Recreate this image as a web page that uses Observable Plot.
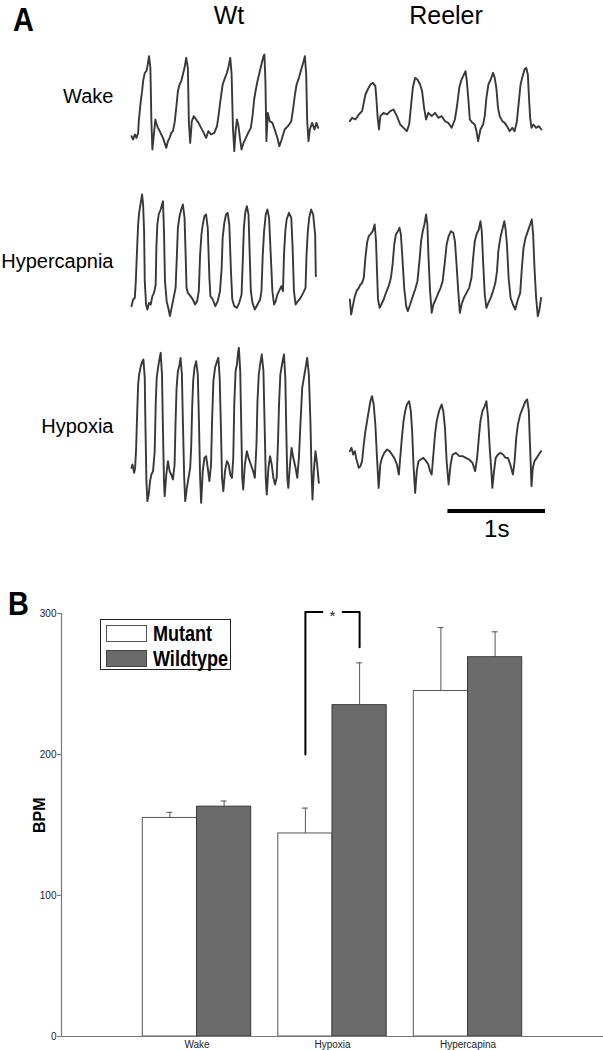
<!DOCTYPE html>
<html>
<head>
<meta charset="utf-8">
<script src="https://cdn.jsdelivr.net/npm/d3@7"></script>
<script src="https://cdn.jsdelivr.net/npm/@observablehq/plot@0.6"></script>
<style>
  html, body { margin: 0; padding: 0; background: #fff; }
  #page { position: relative; width: 603px; height: 1050px; overflow: hidden;
          font-family: "Liberation Sans", Arial, sans-serif; color: #000; }
  .abs { position: absolute; }
  .plabel { font-weight: bold; line-height: 1; transform: scaleX(0.85); transform-origin: left top; }
  #legend { position: absolute; left: 100px; top: 619px; width: 129px; height: 49px;
            border: 1.5px solid #222; background: #fff; }
  #legend .sw { position: absolute; left: 5px; width: 39px; height: 15px; border: 1px solid #555; }
  #legend .lt { position: absolute; left: 52px; font-weight: bold; font-size: 22px; line-height: 1;
                transform: scaleX(0.82); transform-origin: left top; white-space: nowrap; }
</style>
</head>
<body>
<div id="page">
  <div id="panelA" class="abs" style="left:0;top:0;"></div>
  <div id="panelB" class="abs" style="left:0;top:548px;"></div>
  <div class="abs plabel" style="left:13px;top:2px;font-size:34px;">A</div>
  <div class="abs plabel" style="left:8px;top:586px;font-size:34px;">B</div>
  <div id="legend"></div>
</div>
<script>
// ---------- Panel A: breathing traces (time in samples, amplitude in a.u.) ----------
const SAMPLE_MS = 3.4;
const genotypes = ["Wt", "Reeler"];
const conditions = ["Wake", "Hypercapnia", "Hypoxia"];

const wtWake = [[0,130],[5,120],[10,135],[15,125],[20,140],[22,175],[28,235],[32,265],[35,295],[40,320],[45,325],[48,340],[53,370],[57,335],[60,175],[63,90],[67,130],[72,180],[76,165],[80,155],[85,145],[90,135],[95,125],[100,110],[105,95],[110,115],[115,125],[120,140],[125,145],[130,170],[135,215],[140,265],[145,285],[150,295],[155,315],[160,335],[165,365],[170,335],[173,175],[177,110],[182,175],[188,190],[195,180],[202,170],[210,155],[218,140],[225,125],[232,145],[240,135],[250,140],[258,160],[263,195],[268,235],[275,285],[282,305],[288,320],[293,340],[298,365],[302,315],[306,155],[310,85],[314,145],[318,180],[322,165],[327,125],[332,90],[338,110],[345,125],[352,140],[360,155],[365,190],[370,240],[375,270],[380,295],[386,320],[392,345],[398,370],[401,375],[404,295],[407,115],[411,200],[417,175],[425,170],[432,150],[440,125],[446,100],[453,120],[462,150],[472,160],[482,175],[488,215],[493,255],[498,285],[505,305],[512,330],[518,350],[523,370],[527,315],[530,175],[534,115],[538,150],[545,170],[552,150],[558,170],[563,155]];

const reelerWake = [[4,175],[11,185],[21,180],[31,195],[41,205],[46,230],[51,255],[58,270],[66,285],[74,290],[81,280],[84,245],[88,185],[92,150],[96,190],[106,200],[116,195],[126,205],[136,210],[146,190],[156,165],[166,155],[176,145],[183,165],[188,215],[194,275],[201,305],[208,300],[216,285],[222,265],[228,215],[234,180],[241,200],[251,190],[261,200],[271,185],[281,190],[291,175],[301,170],[311,155],[321,180],[328,225],[334,275],[341,300],[346,310],[353,325],[357,295],[362,235],[366,180],[374,170],[381,165],[386,145],[391,115],[398,150],[406,165],[411,190],[416,245],[422,285],[429,300],[436,320],[441,305],[446,275],[451,215],[456,190],[464,175],[471,170],[478,160],[486,145],[494,155],[501,145],[508,175],[514,235],[519,285],[524,305],[531,330],[536,335],[541,315],[544,255],[548,185],[552,155],[558,165],[566,155],[574,160],[582,150]];

const wtHypercapnia = [[0,115],[5,135],[10,140],[13,190],[17,290],[20,360],[23,395],[27,420],[32,450],[35,420],[38,340],[40,190],[44,120],[48,105],[53,125],[58,120],[63,145],[68,155],[73,180],[75,290],[78,360],[82,390],[88,405],[95,430],[98,340],[101,190],[106,130],[112,105],[116,85],[122,115],[128,145],[133,170],[137,270],[140,350],[145,385],[150,405],[155,420],[160,380],[163,280],[166,170],[170,155],[178,145],[185,135],[192,120],[198,130],[203,160],[207,270],[211,330],[215,360],[220,385],[225,390],[230,350],[235,200],[238,145],[245,135],[253,115],[260,130],[267,160],[272,230],[275,320],[280,365],[285,390],[290,395],[295,360],[300,220],[304,135],[310,115],[318,110],[325,125],[332,150],[336,260],[339,350],[343,395],[348,415],[353,390],[356,290],[360,160],[365,125],[372,105],[380,120],[388,135],[392,160],[396,270],[400,340],[405,390],[410,405],[415,380],[420,270],[425,160],[430,120],[435,130],[440,150],[445,160],[452,175],[457,160],[460,270],[464,340],[468,375],[475,395],[482,380],[486,290],[490,160],[495,120],[502,130],[510,140],[518,155],[525,170],[528,270],[532,340],[536,380],[542,405],[548,390],[552,350],[554,330],[556,205]];

const reelerHypercapnia = [[4,135],[8,90],[13,115],[18,140],[24,160],[31,170],[36,180],[41,185],[46,200],[51,260],[56,305],[61,325],[66,330],[73,340],[79,360],[83,310],[86,220],[89,135],[94,110],[99,120],[106,135],[113,155],[121,175],[128,200],[133,240],[138,300],[143,330],[149,340],[154,350],[158,330],[162,270],[168,170],[174,115],[179,100],[186,120],[194,145],[201,165],[208,190],[214,250],[219,310],[224,340],[229,360],[234,390],[238,360],[241,270],[246,160],[251,95],[256,120],[263,135],[271,155],[278,170],[284,190],[291,250],[296,300],[302,325],[309,340],[316,335],[321,310],[326,240],[331,160],[336,95],[341,120],[348,140],[356,155],[364,170],[371,200],[376,260],[381,310],[386,330],[393,345],[398,370],[402,340],[406,250],[411,150],[416,110],[422,125],[429,140],[436,160],[443,185],[448,220],[452,280],[458,320],[464,345],[470,370],[474,345],[478,300],[483,200],[489,140],[496,120],[503,105],[511,135],[518,155],[523,230],[528,290],[534,320],[541,340],[548,360],[553,375],[557,330],[561,230],[566,140],[571,85],[576,105],[581,140]];

const wtHypoxia = [[0,125],[3,135],[8,110],[11,125],[14,185],[17,285],[20,375],[23,405],[28,430],[33,445],[36,450],[40,395],[42,255],[45,85],[48,25],[52,45],[56,85],[60,105],[65,115],[70,175],[73,315],[76,395],[80,425],[85,455],[88,470],[92,405],[95,235],[98,85],[100,40],[105,105],[110,145],[115,115],[120,105],[125,90],[130,135],[133,265],[136,365],[140,415],[145,435],[148,455],[152,405],[155,265],[159,95],[162,25],[167,65],[172,95],[177,125],[180,185],[183,305],[186,385],[190,425],[195,445],[200,405],[203,285],[207,95],[210,20],[215,115],[220,155],[225,160],[230,125],[235,85],[240,135],[243,265],[247,385],[252,425],[258,445],[262,455],[266,395],[270,235],[273,95],[277,55],[282,115],[288,145],[293,135],[298,105],[303,95],[307,155],[310,315],[314,415],[318,435],[322,475],[324,485],[328,415],[331,255],[334,95],[337,60],[342,135],[348,175],[353,155],[360,135],[367,115],[372,95],[377,195],[380,325],[384,405],[388,435],[393,465],[398,415],[402,235],[405,95],[408,45],[413,125],[418,160],[423,135],[428,95],[433,75],[438,95],[442,205],[445,315],[449,405],[454,435],[460,465],[464,395],[467,235],[470,95],[473,65],[478,135],[483,185],[488,155],[495,125],[500,95],[505,155],[510,265],[515,365],[520,395],[525,425],[530,455],[535,405],[540,255],[543,115],[546,30],[550,115],[555,175],[560,135],[565,80]];

const reelerHypoxia = [[4,175],[9,185],[14,165],[19,175],[24,150],[31,125],[36,130],[41,145],[46,195],[51,235],[56,265],[61,295],[66,325],[71,340],[76,315],[81,255],[86,155],[91,65],[96,135],[101,155],[108,170],[116,180],[124,175],[131,165],[138,155],[146,135],[152,105],[156,155],[161,215],[166,265],[171,295],[176,315],[183,325],[188,295],[192,235],[196,135],[201,50],[206,115],[211,145],[218,150],[226,155],[234,145],[241,135],[246,115],[251,105],[256,165],[261,225],[266,265],[273,295],[281,315],[286,295],[291,245],[296,145],[302,75],[308,135],[314,165],[324,170],[334,160],[344,160],[354,155],[364,150],[374,140],[382,115],[388,155],[394,225],[398,265],[404,295],[411,310],[416,325],[421,275],[426,185],[431,115],[434,65],[439,115],[444,155],[451,165],[458,170],[466,165],[474,155],[481,155],[488,135],[496,105],[501,145],[506,215],[511,255],[518,285],[526,305],[534,325],[539,330],[544,295],[546,235],[549,155],[552,70],[556,125],[561,145],[568,155],[574,165],[581,175]];

const traces = [
  {genotype: "Wt", condition: "Wake", points: wtWake},
  {genotype: "Reeler", condition: "Wake", points: reelerWake},
  {genotype: "Wt", condition: "Hypercapnia", points: wtHypercapnia},
  {genotype: "Reeler", condition: "Hypercapnia", points: reelerHypercapnia},
  {genotype: "Wt", condition: "Hypoxia", points: wtHypoxia},
  {genotype: "Reeler", condition: "Hypoxia", points: reelerHypoxia}
];
const scaleBar = [{genotype: "Reeler", condition: "Hypoxia", lengthMs: 1000, label: "1s"}];

// ---------- Panel B: BPM bar chart ----------
const categories = ["Wake", "Hypoxia", "Hypercapina"];
const groups = ["Mutant", "Wildtype"];
const mutantMean = [155, 144, 245];
const mutantErr = [4, 18, 45];
const wildtypeMean = [163, 235, 269];
const wildtypeErr = [4, 30, 18];
const yTicks = [0, 100, 200, 300];
const significance = {category: "Hypoxia", label: "*", top: 301, leftEnd: 200, rightEnd: 276};

const FONT = '"Liberation Sans", Arial, sans-serif';

// ----- build panel A -----
const traceData = traces.flatMap(tr =>
  tr.points.map(([s, v]) => ({genotype: tr.genotype, condition: tr.condition, t: s * SAMPLE_MS, v})));

const plotA = Plot.plot({
  width: 603, height: 548,
  marginTop: 13.5, marginBottom: 39.5, marginLeft: 130, marginRight: 59,
  fx: {domain: genotypes, paddingInner: 0.1, paddingOuter: 0},
  fy: {domain: conditions, paddingInner: 0, paddingOuter: 0},
  x: {domain: [0, 2000], axis: null},
  y: {domain: [0, 495], axis: null},
  style: {fontFamily: FONT, color: "#000", background: "transparent", overflow: "visible"},
  marks: [
    Plot.axisFx({anchor: "top", tickSize: 0, fontSize: 25, label: null, dy: 18}),
    Plot.axisFy({anchor: "left", tickSize: 0, tickPadding: 18, fontSize: 20, label: null}),
    Plot.line(traceData, {x: "t", y: "v", fx: "genotype", fy: "condition",
      stroke: "#383838", strokeWidth: 1.9, strokeLinejoin: "round"}),
    Plot.ruleY(scaleBar, {fx: "genotype", fy: "condition", y: -4.5,
      x1: d => 2020 - d.lengthMs, x2: 2020, stroke: "#000", strokeWidth: 4}),
    Plot.text(scaleBar, {fx: "genotype", fy: "condition", x: d => 2020 - d.lengthMs / 2, y: -58,
      text: "label", fontSize: 24, fill: "#000"})
  ]
});
document.getElementById("panelA").appendChild(plotA);

// ----- build panel B -----
const barData = categories.flatMap((c, i) => [
  {category: c, idx: i + 1, group: "Mutant", mean: mutantMean[i], err: mutantErr[i]},
  {category: c, idx: i + 1, group: "Wildtype", mean: wildtypeMean[i], err: wildtypeErr[i]}
]);
const HALF = 0.4;
const left = d => d.group === "Mutant" ? d.idx - HALF : d.idx;
const right = d => d.group === "Mutant" ? d.idx : d.idx + HALF;
const center = d => (left(d) + right(d)) / 2;
const CAP = 0.022;
const si = categories.indexOf(significance.category) + 1;
const bracketL = [[si - HALF / 2, significance.leftEnd], [si - HALF / 2, significance.top], [si - 0.075, significance.top]];
const bracketR = [[si + 0.075, significance.top], [si + HALF / 2, significance.top], [si + HALF / 2, significance.rightEnd]];

const plotB = Plot.plot({
  width: 603, height: 502,
  marginTop: 65, marginBottom: 14, marginLeft: 61, marginRight: 0,
  x: {domain: [0, 4]},
  y: {domain: [0, 300]},
  style: {fontFamily: FONT, color: "#222", background: "transparent", overflow: "visible"},
  marks: [
    Plot.ruleX(barData, {x: center, y1: "mean", y2: d => d.mean + d.err, stroke: "#555", strokeWidth: 1}),
    Plot.ruleY(barData, {x1: d => center(d) - CAP, x2: d => center(d) + CAP, y: d => d.mean + d.err, stroke: "#555", strokeWidth: 1}),
    Plot.rect(barData.filter(d => d.group === "Mutant"), {x1: left, x2: right, y1: 0, y2: "mean",
      fill: "#fff", stroke: "#555", strokeWidth: 1}),
    Plot.rect(barData.filter(d => d.group === "Wildtype"), {x1: left, x2: right, y1: 0, y2: "mean",
      fill: "#6b6b6b", stroke: "#3a3a3a", strokeWidth: 1}),
    Plot.ruleX([0], {y1: 0, y2: 300, stroke: "#777", strokeWidth: 1.2}),
    Plot.ruleY([0], {stroke: "#777", strokeWidth: 1.2}),
    Plot.axisY({ticks: yTicks, tickSize: 4, tickPadding: 1, fontSize: 10, label: null, stroke: "#777"}),
    Plot.axisX({ticks: [1, 2, 3], tickFormat: i => categories[i - 1], tickSize: 0, tickPadding: 4, fontSize: 10, label: null}),
    Plot.line(bracketL, {stroke: "#000", strokeWidth: 2}),
    Plot.line(bracketR, {stroke: "#000", strokeWidth: 2}),
    Plot.text([significance], {x: si, y: "top", text: "label", fontSize: 15, dy: 4, fill: "#222"}),
    Plot.text(["BPM"], {frameAnchor: "left", rotate: -90, dx: -22, dy: 8, fontSize: 16, fontWeight: "bold", fill: "#000"})
  ]
});
document.getElementById("panelB").appendChild(plotB);

// ----- legend (HTML, inside panel B) -----
const legendColors = {Mutant: "#ffffff", Wildtype: "#6b6b6b"};
const legend = document.getElementById("legend");
groups.forEach((g, i) => {
  const sw = document.createElement("div");
  sw.className = "sw";
  sw.style.top = (5 + i * 25) + "px";
  sw.style.background = legendColors[g];
  if (g === "Wildtype") sw.style.borderColor = "#444";
  legend.appendChild(sw);
  const t = document.createElement("div");
  t.className = "lt";
  t.style.top = (3 + i * 25) + "px";
  t.textContent = g;
  legend.appendChild(t);
});
</script>
</body>
</html>
